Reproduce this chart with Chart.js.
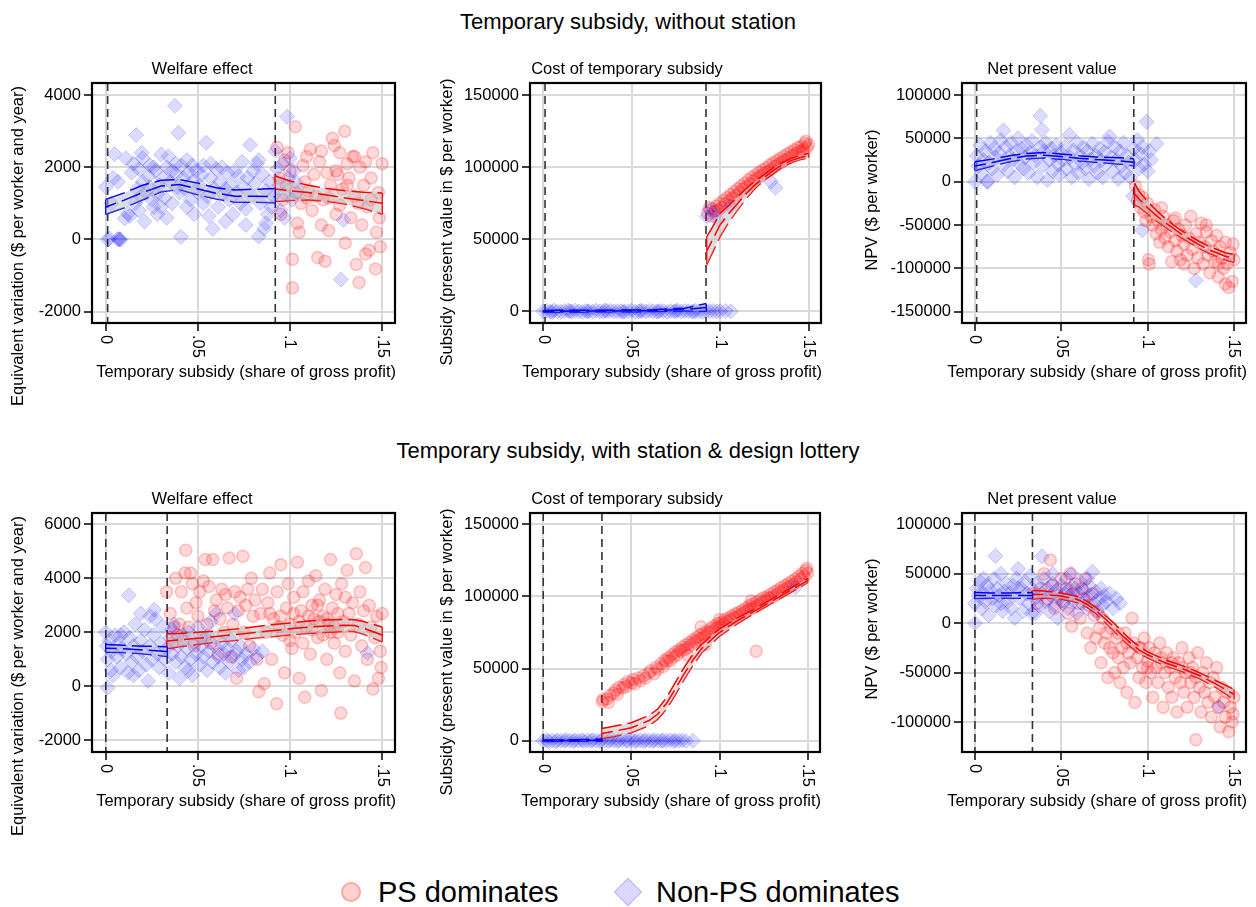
<!DOCTYPE html>
<html>
<head>
<meta charset="utf-8">
<script src="https://cdn.jsdelivr.net/npm/chart.js@4.4.1/dist/chart.umd.min.js"></script>
<style>
  body { margin: 0; background: #fff; font-family: "Liberation Sans", Arial, sans-serif; }
  #page { position: relative; width: 1256px; height: 907px; overflow: hidden; }
  canvas { position: absolute; }
  .main-title { position: absolute; left: 0; width: 1256px; text-align: center; font-size: 22px; line-height: 26px; color: #000; }
  .leg-text { position: absolute; font-size: 29px; line-height: 34px; color: #000; }
  .leg-circle { position: absolute; width: 16px; height: 16px; border-radius: 50%; background: rgba(255,0,0,0.18); border: 2px solid rgba(255,0,0,0.22); }
  .leg-diamond { position: absolute; width: 18px; height: 18px; transform: rotate(45deg); background: rgba(0,0,255,0.15); border: 1px solid rgba(0,0,255,0.18); }
</style>
</head>
<body>
<div id="page">
  <div class="main-title" style="top:9px">Temporary subsidy, without station</div>
  <div class="main-title" style="top:438px">Temporary subsidy, with station &amp; design lottery</div>

  <canvas id="welfareA" width="405" height="365" style="left:0;top:55px"></canvas>
  <canvas id="costA" width="405" height="365" style="left:425px;top:55px"></canvas>
  <canvas id="npvA" width="406" height="365" style="left:850px;top:55px"></canvas>
  <canvas id="welfareB" width="405" height="365" style="left:0;top:485px"></canvas>
  <canvas id="costB" width="405" height="365" style="left:425px;top:485px"></canvas>
  <canvas id="npvB" width="406" height="365" style="left:850px;top:485px"></canvas>

  <div class="leg-circle" style="left:341px;top:882px"></div>
  <div class="leg-text" style="left:378px;top:875px">PS dominates</div>
  <div class="leg-diamond" style="left:618px;top:882px"></div>
  <div class="leg-text" style="left:656px;top:875px">Non-PS dominates</div>
</div>

<script>
// x axis (share of gross profit), same for every panel
const xTicks = [0, 0.05, 0.1, 0.15];
const cutsA = [0.001, 0.092];   // without station
const cutsB = [0, 0.0333];      // with station & design lottery

const welfareTicksA = [-2000, 0, 2000, 4000];
const costTicks = [0, 50000, 100000, 150000];
const npvTicksA = [-150000, -100000, -50000, 0, 50000, 100000];
const welfareTicksB = [-2000, 0, 2000, 4000, 6000];
const npvTicksB = [-100000, -50000, 0, 50000, 100000];

// ---------- Temporary subsidy, without station ----------
const welfareANonPS = [
  [0,1450],[.001,0],[.002,30],[.003,1000],[.0048,2365],[.004,1700],[.0066,1600],[.007,0],[.0075,0],[.008,0],[.0065,20],
  [.011,2245],[.0102,580],[.012,720],[.014,1850],[.015,2100],[.0165,2890],[.017,1400],[.018,800],[.013,650],[.0195,2400],
  [.019,1200],[.02,1600],[.021,500],[.018,1950],[.016,1000],[.02,2250],[.022,1300],[.023,1750],[.024,2050],[.025,1100],
  [.026,900],[.027,1900],[.028,700],[.029,1500],[.03,2350],[.024,1450],[.026,2000],[.028,1250],[.03,900],[.031,1700],
  [.032,1150],[.033,2000],[.034,2300],[.035,1600],[.036,1000],[.0375,3700],[.038,1800],[.0394,2950],[.04,1300],[.038,2100],
  [.033,600],[.036,1900],[.0407,75],[.039,1450],[.041,2050],[.042,1700],[.043,1400],[.044,2200],[.045,1850],[.046,1100],
  [.047,1600],[.048,700],[.049,1900],[.05,1300],[.044,900],[.047,2050],[.051,1500],[.052,1800],[.053,2050],[.0545,2680],
  [.055,1200],[.056,650],[.057,1700],[.058,300],[.059,1400],[.06,1950],[.053,1000],[.057,2100],[.061,900],[.062,1600],
  [.063,2000],[.064,1250],[.065,500],[.066,1850],[.067,1100],[.068,1500],[.069,700],[.07,1900],[.065,1400],[.071,1300],
  [.072,1750],[.073,1000],[.074,2150],[.075,1450],[.076,850],[.077,1700],[.0783,2620],[.079,1200],[.08,1900],[.076,400],
  [.081,1550],[.082,2100],[.083,80],[.084,1000],[.085,1800],[.086,300],[.087,1350],[.088,700],[.089,1600],[.09,900],
  [.083,2200],[.087,450],[.091,1200],[.092,2450],[.093,1950],[.094,1500],[.095,800],[.096,2100],[.097,1250],[.0984,3400],
  [.099,1700],[.1,2250],[.101,1100],[.102,1900],[.104,1300],[.103,1600],[.097,600],[.1276,-1110],[.129,540]
];
const welfareAPS = [
  [.093,2550],[.094,1700],[.095,700],[.096,1100],[.097,2200],[.098,1500],[.099,2400],[.1,1900],[.1013,-550],[.1013,-1340],
  [.1029,3120],[.103,1300],[.104,450],[.105,200],[.106,1000],[.107,2050],[.108,1600],[.109,2300],[.11,1350],[.111,2500],
  [.112,800],[.113,1800],[.114,1200],[.115,-500],[.116,2150],[.117,400],[.118,1100],[.119,-600],[.12,1850],[.121,250],
  [.122,1500],[.123,2800],[.124,2600],[.125,700],[.126,1800],[.127,2400],[.1285,1400],[.1297,3000],[.13,-100],[.131,2100],
  [.132,1700],[.133,600],[.134,2300],[.135,1200],[.136,-690],[.137,1000],[.1375,-1190],[.138,2000],[.139,400],[.14,1500],
  [.141,2150],[.142,900],[.143,-300],[.144,1700],[.145,2400],[.1464,-820],[.147,200],[.148,1300],[.149,-200],[.15,2100],
  [.1485,600],[.121,1150],[.117,2450],[.127,950],[.141,-400],[.109,1150],[.135,2300],[.125,1900],[.131,1500],[.144,1100]
];
const welfareAFitNonPS = [ // [x, low, mean, high]
  [0,700,900,1110],[.01,880,1090,1290],[.02,1100,1300,1500],[.03,1320,1480,1640],[.04,1380,1520,1660],
  [.05,1240,1400,1560],[.06,1120,1280,1430],[.07,1040,1200,1370],[.08,1030,1200,1390],[.092,1020,1180,1410]
];
const welfareAFitPS = [
  [.092,1050,1400,1760],[.1,1080,1350,1620],[.11,1100,1300,1500],[.12,1060,1230,1410],[.13,980,1150,1350],
  [.14,860,1080,1310],[.15,700,1000,1290]
];

const costANonPS = [
  [0,0],[.002,300],[.004,-200],[.006,500],[.008,0],[.01,-300],[.012,200],[.014,600],[.016,-100],[.018,400],[.02,0],
  [.022,-400],[.024,300],[.026,100],[.028,-200],[.03,500],[.032,0],[.034,-300],[.036,200],[.038,400],[.04,-100],[.042,0],
  [.044,300],[.046,-200],[.048,100],[.05,500],[.052,-300],[.054,0],[.056,200],[.058,-100],[.06,400],[.062,0],[.064,-200],
  [.066,300],[.068,100],[.07,-400],[.072,200],[.074,0],[.076,500],[.078,-100],[.08,300],[.082,0],[.084,-200],[.086,400],
  [.088,100],[.09,-300],[.092,200],[.094,0],[.096,300],[.098,-100],[.1,0],[.103,200],[.106,0],[.005,-500],[.015,100],
  [.025,-100],[.035,600],[.045,-400],[.055,300],[.065,-100],[.075,200],[.085,-300],
  [.0925,65800],[.0962,68600],[.0987,63300],[.1057,72800],[.1287,90000],[.1312,85600],[.094,70500]
];
const costAPS = [
  [.093,68000],[.094,72000],[.095,66000],[.096,71000],[.097,69500],[.098,73000],[.099,70000],[.1,75000],[.101,72000],
  [.102,77000],[.103,74500],[.104,79000],[.105,76500],[.106,81000],[.107,78500],[.108,83000],[.109,80500],[.11,85000],
  [.111,82500],[.112,87000],[.113,85000],[.114,89000],[.115,86500],[.116,91000],[.117,88500],[.118,93000],[.119,90500],
  [.12,94500],[.121,92500],[.122,96500],[.123,94000],[.124,98000],[.125,95500],[.126,99500],[.127,97000],[.128,101500],
  [.129,98500],[.13,103000],[.131,100500],[.132,104500],[.133,102000],[.134,106000],[.135,103500],[.136,107500],
  [.137,105000],[.138,109000],[.139,106500],[.14,110500],[.141,108000],[.142,112000],[.143,109500],[.144,113500],
  [.145,111000],[.146,114500],[.147,112000],[.148,116500],[.149,113500],[.15,115500],[.1485,118000],[.1465,110000]
];
const costAFitNonPS = [[0,-600,0,600],[.02,-400,150,700],[.04,-300,250,800],[.06,-200,400,1000],[.08,400,1200,2100],[.092,200,2600,5400]];
const costAFitPS = [
  [.0925,32500,42000,52000],[.095,39000,48000,57000],[.1,52000,60000,68000],[.105,62000,68000,73500],[.11,70500,75000,79500],
  [.115,78500,82000,85500],[.12,85500,88000,90500],[.125,91000,93000,95000],[.13,95500,97500,99500],
  [.135,100000,101500,103000],[.14,103000,104500,106000],[.145,105000,106500,108000],[.15,106500,108000,109500]
];

const npvANonPS = [
  [0,0],[.001,30000],[.002,18000],[.003,42000],[.004,10000],[.005,25000],[.006,35000],[.007,0],[.0075,0],[.008,22000],
  [.009,45000],[.01,15000],[.011,38000],[.012,28000],[.013,8000],[.014,33000],[.015,48000],[.0165,59000],[.017,20000],
  [.018,40000],[.019,12000],[.02,30000],[.021,45000],[.022,25000],[.023,5000],[.024,35000],[.025,50000],[.026,20000],
  [.027,38000],[.028,15000],[.029,28000],[.03,42000],[.031,10000],[.032,33000],[.033,47000],[.034,22000],[.035,30000],
  [.036,5000],[.0378,76000],[.0388,60000],[.038,40000],[.039,18000],[.04,35000],[.041,45000],[.042,2000],[.043,25000],
  [.044,38000],[.045,12000],[.046,30000],[.047,42000],[.048,20000],[.049,8000],[.05,33000],[.051,25000],[.052,40000],
  [.053,15000],[.0547,54000],[.055,28000],[.056,5000],[.057,36000],[.058,20000],[.059,45000],[.06,10000],[.061,30000],
  [.062,22000],[.063,40000],[.064,15000],[.065,35000],[.066,3000],[.067,26000],[.068,44000],[.069,18000],[.07,30000],
  [.071,10000],[.072,38000],[.073,24000],[.074,5000],[.075,34000],[.076,20000],[.077,46000],[.078,52000],[.079,28000],
  [.08,12000],[.081,40000],[.082,25000],[.083,3000],[.084,35000],[.085,18000],[.086,45000],[.087,10000],[.088,30000],
  [.089,22000],[.09,5000],[.0917,-16800],[.092,38000],[.093,25000],[.094,48000],[.095,15000],[.096,32000],[.0969,-55900],
  [.097,40000],[.098,20000],[.0994,69000],[.1,12000],[.101,35000],[.102,25000],[.1052,43700],[.1279,-114000]
];
const npvAPS = [
  [.093,-5000],[.094,-22000],[.095,-15000],[.096,-30000],[.097,-18000],[.098,-35000],[.099,-45000],[.1,-25000],
  [.1005,-90000],[.101,-95000],[.102,-40000],[.103,-50000],[.104,-32000],[.105,-60000],[.106,-45000],[.107,-70000],
  [.108,-55000],[.109,-40000],[.11,-65000],[.111,-50000],[.112,-75000],[.113,-58000],[.114,-92000],[.115,-45000],
  [.116,-68000],[.117,-80000],[.118,-55000],[.119,-90000],[.12,-62000],[.121,-72000],[.122,-50000],[.123,-85000],
  [.124,-65000],[.125,-40000],[.126,-78000],[.127,-100000],[.128,-60000],[.129,-88000],[.13,-70000],[.131,-48000],
  [.132,-95000],[.133,-75000],[.134,-58000],[.135,-85000],[.136,-105000],[.137,-68000],[.138,-80000],[.139,-92000],
  [.14,-62000],[.141,-110000],[.142,-75000],[.143,-88000],[.144,-100000],[.145,-70000],[.146,-95000],[.147,-122000],
  [.148,-82000],[.149,-115000],[.15,-90000],[.1495,-72000],[.134,-50000],[.121,-95000],[.108,-30000],[.116,-42000],
  [.141,-95000],[.145,-118000]
];
const npvAFitNonPS = [
  [0,13000,18000,23000],[.01,18000,22000,26000],[.02,23000,26500,30000],[.03,26500,29500,32500],[.04,27500,30500,33500],
  [.05,26000,29000,32000],[.06,24000,27000,30000],[.07,22500,25500,28500],[.08,21000,24500,28000],[.092,18500,22500,26500]
];
const npvAFitPS = [
  [.0925,-27000,-14000,-2000],[.095,-29000,-20000,-11000],[.1,-37000,-30000,-23000],[.105,-45000,-39000,-33000],
  [.11,-52000,-47000,-42000],[.115,-59000,-54000,-50000],[.12,-65000,-61000,-57000],[.125,-71000,-67000,-63000],
  [.13,-77000,-73000,-69000],[.135,-82000,-78000,-74000],[.14,-86000,-82000,-78000],[.145,-90000,-86000,-82000],
  [.15,-93000,-88000,-84000]
];

// ---------- Temporary subsidy, with station & design lottery ----------
const welfareBNonPS = [
  [0,2000],[.0005,1500],[.001,-50],[.001,1000],[.002,1700],[.003,1300],[.004,400],[.005,1900],[.006,1100],[.007,1600],
  [.008,700],[.009,1400],[.01,2000],[.011,1200],[.0125,3370],[.012,500],[.013,1800],[.014,900],[.015,1500],[.016,2300],
  [.017,1100],[.018,600],[.019,1700],[.02,1300],[.021,2100],[.022,800],[.023,200],[.024,1500],[.025,1000],[.026,1900],
  [.0263,2840],[.027,2500],[.028,1200],[.029,700],[.03,1600],[.031,2200],[.032,1000],[.033,1400],[.034,500],[.035,1800],
  [.036,1200],[.037,2300],[.038,900],[.039,1500],[.04,300],[.041,1100],[.042,1900],[.043,700],[.044,1400],[.045,2000],
  [.046,1000],[.047,400],[.048,1600],[.049,1200],[.05,2200],[.051,800],[.052,1500],[.053,1100],[.054,1800],[.055,600],
  [.056,1300],[.057,2400],[.058,900],[.059,1500],[.06,2700],[.061,1100],[.062,700],[.063,1600],[.064,1200],[.065,500],
  [.066,1400],[.067,900],[.068,1700],[.069,1100],[.07,2700],[.071,1300],[.072,600],[.073,1500],[.074,1000],[.075,700],
  [.076,1200],[.078,900],[.08,1400],[.082,1100],[.085,1300],[.142,1235],[.003,600],[.008,1900],[.015,400],[.019,2700],
  [.024,2600],[.036,2100],[.045,600],[.055,1900]
];
const welfareBPS = [
  [.033,3500],[.035,2700],[.036,1600],[.037,2200],[.038,4000],[.039,1900],[.04,2300],[.041,3500],[.042,1700],[.043,4200],
  [.0434,5040],[.044,2900],[.045,2200],[.046,4200],[.047,3800],[.048,1500],[.049,3100],[.05,2600],[.051,3500],[.052,1800],
  [.053,3900],[.054,4700],[.055,2300],[.056,3700],[.057,1600],[.058,4700],[.059,2800],[.06,3200],[.061,1200],[.062,2500],
  [.063,3600],[.064,2000],[.065,3400],[.066,2900],[.067,4750],[.068,1100],[.069,2300],[.07,3500],[.071,300],[.072,2800],
  [.073,3300],[.0744,4820],[.075,2000],[.076,3000],[.077,3600],[.078,1500],[.079,4000],[.08,2600],[.081,3200],[.082,1000],
  [.083,-200],[.084,2700],[.085,3600],[.086,100],[.087,2000],[.088,3100],[.089,4200],[.09,1000],[.091,2500],[.0927,-640],
  [.093,3500],[.094,2200],[.095,4500],[.096,1900],[.097,500],[.098,2900],[.099,3800],[.1,2300],[.101,1400],[.102,3300],
  [.103,2000],[.104,4600],[.105,300],[.106,2800],[.107,3500],[.108,-400],[.109,2200],[.11,3900],[.111,1200],[.112,3000],
  [.113,2500],[.114,4100],[.115,1800],[.116,3200],[.117,-150],[.118,2600],[.119,3600],[.12,1000],[.121,2300],[.122,4700],
  [.123,2900],[.124,1600],[.125,3400],[.126,2000],[.127,500],[.1276,-990],[.128,3800],[.129,2400],[.13,1300],[.131,4300],
  [.132,2700],[.133,1900],[.134,3100],[.135,200],[.136,4915],[.137,2300],[.138,3500],[.139,1500],[.14,2800],[.141,4400],
  [.142,1000],[.143,3000],[.144,2200],[.145,-100],[.146,1800],[.147,2600],[.148,300],[.149,1300],[.15,2700],[.1495,700],
  [.105,2400],[.112,2100],[.118,1900],[.122,2000],[.11,2600],[.116,2400],[.126,2700],[.13,3300],[.107,1600],[.102,2700],
  [.1,1700],[.115,3000],[.12,2500],[.124,2200],[.095,2600],[.089,2700]
];
const welfareBFitNonPS = [[0,1260,1410,1550],[.01,1250,1390,1520],[.02,1210,1350,1490],[.0333,1110,1290,1470]];
const welfareBFitPS = [
  [.0333,1400,1680,1950],[.04,1470,1720,1960],[.05,1560,1780,2000],[.06,1640,1850,2050],[.07,1700,1920,2120],
  [.08,1780,1990,2200],[.09,1840,2060,2280],[.1,1910,2130,2350],[.11,1960,2190,2420],[.12,2000,2240,2460],
  [.13,2040,2260,2480],[.135,2030,2250,2470],[.14,1930,2150,2400],[.15,1650,1900,2200]
];

const costBNonPS = [
  [0,0],[.002,400],[.003,-300],[.005,200],[.007,-500],[.008,300],[.01,0],[.012,-200],[.013,500],[.015,100],[.017,-400],
  [.018,300],[.02,0],[.022,500],[.023,-300],[.025,200],[.027,-100],[.028,400],[.03,0],[.032,-400],[.033,300],[.035,100],
  [.037,-200],[.038,500],[.04,0],[.042,-300],[.043,200],[.045,400],[.047,-100],[.048,0],[.05,300],[.052,-400],[.053,100],
  [.055,200],[.057,-200],[.058,400],[.06,0],[.062,-300],[.063,300],[.065,100],[.067,-100],[.068,200],[.07,0],[.072,300],
  [.074,-200],[.075,100],[.077,0],[.079,200],[.081,-100],[.085,0],[.143,106400]
];
const costBPS = [
  [.0335,27000],[.034,28500],[.036,29000],[.037,26500],[.038,31500],[.04,33000],[.041,35000],[.042,32000],[.043,37000],
  [.045,36500],[.046,39000],[.047,37500],[.048,41000],[.05,40000],[.051,42500],[.052,39500],[.054,43500],[.055,41500],
  [.057,45000],[.058,43500],[.06,47000],[.061,48500],[.063,46500],[.064,51000],[.065,49500],[.067,53500],[.068,51500],
  [.069,56000],[.07,55000],[.071,57500],[.072,55500],[.073,59500],[.074,58000],[.075,61500],[.076,59500],[.077,63000],
  [.078,62000],[.079,65000],[.08,63000],[.081,66500],[.082,64500],[.083,68000],[.084,66500],[.085,70000],[.086,68500],
  [.087,71500],[.088,70000],[.089,73500],[.09,71000],[.091,74500],[.092,72500],[.093,76000],[.094,75000],[.095,78000],
  [.096,76000],[.097,79500],[.098,78000],[.099,81000],[.1,79000],[.101,82000],[.102,80500],[.103,84000],[.104,82500],
  [.105,85000],[.106,83500],[.107,86500],[.108,85000],[.109,88000],[.11,86000],[.111,89000],[.112,87500],[.113,90500],
  [.114,89000],[.115,92000],[.116,90500],[.117,93500],[.118,91500],[.119,95000],[.12,92500],[.1208,62000],[.121,96000],
  [.122,94000],[.123,97500],[.124,95500],[.125,99000],[.126,97000],[.127,100000],[.128,98500],[.129,101500],[.13,99500],
  [.131,103000],[.132,101000],[.133,104500],[.134,102500],[.135,106000],[.136,104000],[.137,107500],[.138,105500],
  [.139,109000],[.14,107000],[.141,110500],[.142,108500],[.143,112000],[.144,110000],[.145,114000],[.146,112000],
  [.147,116000],[.148,114000],[.149,118000],[.15,116000],[.1495,119500],[.0895,79000],[.1,84000],[.092,66500],
  [.082,59000],[.118,97000]
];
const costBFitNonPS = [[0,-500,0,500],[.01,-400,100,600],[.02,-300,200,700],[.0333,-200,400,1200]];
const costBFitPS = [
  [.0333,1500,5000,8500],[.04,3000,6500,10000],[.05,5500,9000,12500],[.06,10500,14000,17500],[.065,15000,18500,22000],
  [.07,22000,26000,30000],[.075,32000,36000,40500],[.08,42500,46500,51000],[.085,52500,56000,60000],[.09,61000,64000,67000],
  [.1,72500,75000,77500],[.11,81000,83000,85000],[.12,88500,90000,91500],[.13,95500,97000,98500],
  [.14,102500,104000,105500],[.15,109500,111000,112500]
];

const npvBNonPS = [
  [0,0],[0,20000],[.001,35000],[.002,28000],[.003,42000],[.004,15000],[.005,30000],[.006,22000],[.007,38000],[.008,8000],
  [.009,33000],[.01,25000],[.011,45000],[.0119,68000],[.012,18000],[.013,35000],[.014,28000],[.015,50000],[.016,12000],
  [.017,32000],[.018,40000],[.019,22000],[.02,30000],[.021,15000],[.022,38000],[.023,5000],[.024,45000],[.025,55000],
  [.026,25000],[.027,35000],[.028,12000],[.029,42000],[.03,30000],[.031,20000],[.032,48000],[.033,10000],[.034,33000],
  [.035,25000],[.036,40000],[.037,18000],[.0388,67600],[.039,30000],[.04,45000],[.041,22000],[.042,35000],[.043,12000],
  [.044,28000],[.045,40000],[.046,18000],[.047,33000],[.048,5000],[.049,25000],[.05,38000],[.051,20000],[.052,30000],
  [.053,45000],[.054,15000],[.055,28000],[.056,50000],[.057,22000],[.058,35000],[.059,10000],[.06,30000],[.061,42000],
  [.062,20000],[.063,33000],[.064,25000],[.065,15000],[.066,38000],[.067,28000],[.068,52000],[.069,20000],[.07,32000],
  [.071,10000],[.072,25000],[.073,35000],[.074,18000],[.075,28000],[.076,22000],[.078,30000],[.08,15000],[.082,25000],
  [.084,20000],[.1413,-84500],[.005,45000],[.015,20000],[.025,35000],[.035,10000],[.045,50000],[.055,35000],[.065,45000]
];
const npvBPS = [
  [.034,30000],[.036,20000],[.038,35000],[.04,50000],[.042,25000],[.0437,64000],[.045,38000],[.046,15000],[.048,28000],
  [.05,45000],[.051,22000],[.053,35000],[.054,10000],[.055,50000],[.056,-3000],[.057,30000],[.058,40000],[.06,20000],
  [.061,5000],[.062,35000],[.063,25000],[.064,45000],[.065,-10000],[.066,18000],[.067,-25000],[.068,30000],[.069,8000],
  [.07,-15000],[.071,12000],[.072,-5000],[.073,-40000],[.074,5000],[.075,-20000],[.076,-10000],[.077,-55000],
  [.078,-25000],[.079,-5000],[.08,-30000],[.081,-50000],[.082,-15000],[.083,-35000],[.084,-60000],[.085,-25000],
  [.086,-45000],[.087,-10000],[.088,-70000],[.089,-30000],[.09,-40000],[.091,5000],[.092,-20000],[.0927,-80400],
  [.094,-35000],[.095,-55000],[.096,-25000],[.097,-45000],[.098,-15000],[.099,-60000],[.1,-38000],[.101,-25000],
  [.102,-50000],[.103,-75000],[.104,-30000],[.105,-45000],[.106,-60000],[.107,-20000],[.108,-40000],[.109,-85000],
  [.11,-50000],[.111,-30000],[.112,-65000],[.113,-45000],[.114,-75000],[.115,-35000],[.116,-55000],[.117,-90000],
  [.118,-40000],[.119,-60000],[.12,-25000],[.121,-70000],[.122,-50000],[.123,-85000],[.124,-35000],[.125,-60000],
  [.126,-45000],[.127,-75000],[.1279,-118000],[.128,-55000],[.129,-30000],[.13,-65000],[.131,-90000],[.132,-50000],
  [.133,-70000],[.134,-40000],[.135,-80000],[.136,-60000],[.137,-95000],[.138,-55000],[.139,-75000],[.14,-45000],
  [.141,-85000],[.142,-105000],[.143,-65000],[.144,-80000],[.145,-95000],[.146,-70000],[.147,-110000],[.148,-85000],
  [.149,-100000],[.15,-75000],[.1495,-92000],[.114,-40000],[.12,-45000],[.125,-50000],[.108,-35000],[.1,-45000],
  [.095,-25000],[.088,-20000],[.083,-10000]
];
const npvBFitNonPS = [[0,25000,28000,31000],[.01,25500,28000,30500],[.02,25500,28000,30500],[.0333,25000,28000,31000]];
const npvBFitPS = [
  [.0333,24500,29000,33000],[.04,25500,29000,32500],[.05,24500,27500,30500],[.057,22000,25000,28000],[.06,20500,23500,26500],
  [.065,16000,19000,22000],[.07,10000,13000,16000],[.075,1500,5000,8500],[.08,-7000,-3000,1000],[.085,-16000,-12000,-8000],
  [.09,-23500,-20000,-16500],[.095,-30500,-27000,-23500],[.1,-35000,-32000,-29000],[.11,-43000,-40000,-37000],
  [.12,-49000,-46000,-43000],[.13,-56000,-53000,-50000],[.14,-65500,-62000,-58500],[.15,-77000,-72000,-67000]
];

const FONT = '"Liberation Sans", Arial, sans-serif';
Chart.defaults.font.family = FONT;
Chart.defaults.color = '#000';

const RED = '#ff0000';
const BLUE = '#0000ff';

function fmtX(v) {
  return v === 0 ? '0' : String(v).replace(/^0/, '');
}

// frame, cutoff lines and all the free text of a panel
const panelDecor = {
  id: 'panelDecor',
  beforeDatasetsDraw(chart, args, opts) {
    const { ctx, chartArea: a, scales: { x } } = chart;
    ctx.save();
    ctx.strokeStyle = '#333';
    ctx.lineWidth = 1.6;
    ctx.setLineDash([8, 5]);
    opts.cuts.forEach(v => {
      const px = x.getPixelForValue(v);
      ctx.beginPath();
      ctx.moveTo(px, a.top);
      ctx.lineTo(px, a.bottom);
      ctx.stroke();
    });
    ctx.restore();
  },
  afterDraw(chart, args, opts) {
    const { ctx, chartArea: a, scales: { x } } = chart;
    ctx.save();
    ctx.strokeStyle = '#000';
    ctx.lineWidth = 2.2;
    ctx.strokeRect(a.left, a.top, a.right - a.left, a.bottom - a.top);

    ctx.fillStyle = '#000';
    ctx.font = '16.5px ' + FONT;
    // x tick labels, turned clockwise
    xTicks.forEach(v => {
      const px = x.getPixelForValue(v);
      ctx.save();
      ctx.translate(px, a.bottom + 12);
      ctx.rotate(Math.PI / 2);
      ctx.textAlign = 'left';
      ctx.textBaseline = 'middle';
      ctx.fillText(fmtX(v), 0, 0);
      ctx.restore();
    });
    // x title
    ctx.textAlign = 'right';
    ctx.textBaseline = 'middle';
    ctx.fillText('Temporary subsidy (share of gross profit)', a.right + 1, a.bottom + 49);
    // panel title
    ctx.textAlign = 'center';
    ctx.fillText(opts.title, 202, 14);
    // y title
    ctx.save();
    ctx.translate(opts.yTitleX, opts.yTitleY);
    ctx.rotate(-Math.PI / 2);
    ctx.fillText(opts.yTitle, 0, 0);
    ctx.restore();
    ctx.restore();
  }
};

function pts(rows) {
  return rows.map(r => ({ x: r[0], y: r[1] }));
}

// mean line, upper band (filled down to the lower band), lower band, end caps
function fitSets(rows, color) {
  const first = rows[0];
  const last = rows[rows.length - 1];
  const dash = [20, 6];
  return [
    {
      data: rows.map(r => ({ x: r[0], y: r[2] })),
      showLine: true, pointRadius: 0, borderColor: color, borderWidth: 1.5,
      borderDash: dash, borderDashOffset: 9, fill: false
    },
    {
      data: rows.map(r => ({ x: r[0], y: r[3] })),
      showLine: true, pointRadius: 0, borderColor: color, borderWidth: 1.5,
      borderDash: dash, backgroundColor: 'rgba(190,190,190,0.5)', fill: '+1'
    },
    {
      data: rows.map(r => ({ x: r[0], y: r[1] })),
      showLine: true, pointRadius: 0, borderColor: color, borderWidth: 1.5,
      borderDash: dash, fill: false
    },
    {
      data: [
        { x: first[0], y: first[3] }, { x: first[0], y: first[1] }, { x: first[0], y: null },
        { x: last[0], y: last[3] }, { x: last[0], y: last[1] }
      ],
      showLine: true, spanGaps: false, pointRadius: 0, borderColor: color, borderWidth: 1.5, fill: false
    }
  ];
}

function makePanel(id, cfg) {
  const yAxisWidth = cfg.yAxisWidth;
  new Chart(document.getElementById(id), {
    type: 'scatter',
    data: {
      datasets: [
        ...fitSets(cfg.fitNonPS, BLUE),
        ...fitSets(cfg.fitPS, RED),
        {
          data: pts(cfg.nonPS), pointStyle: 'rectRot', pointRadius: 7.5,
          backgroundColor: 'rgba(0,0,255,0.14)', borderColor: 'rgba(0,0,255,0.18)', borderWidth: 1
        },
        {
          data: pts(cfg.ps), pointStyle: 'circle', pointRadius: 6,
          backgroundColor: 'rgba(255,0,0,0.15)', borderColor: 'rgba(255,0,0,0.22)', borderWidth: 1.5
        }
      ]
    },
    options: {
      responsive: false,
      animation: false,
      events: [],
      layout: { padding: { top: 28, right: cfg.right, left: 0, bottom: cfg.bottom } },
      plugins: {
        legend: { display: false },
        tooltip: { enabled: false },
        panelDecor: { cuts: cfg.cuts, title: cfg.title, yTitle: cfg.yTitle, yTitleX: cfg.yTitleX, yTitleY: cfg.yTitleY }
      },
      scales: {
        x: {
          type: 'linear', min: -0.0075, max: 0.157,
          afterBuildTicks: s => { s.ticks = xTicks.map(v => ({ value: v })); },
          afterFit: s => { s.height = 67; },
          ticks: { color: 'rgba(0,0,0,0)', autoSkip: false, maxRotation: 0 },
          grid: { color: '#d9d9d9', lineWidth: 2, tickLength: 8, tickColor: '#000', tickWidth: 1.5 },
          border: { display: false }
        },
        y: {
          type: 'linear', min: cfg.yMin, max: cfg.yMax,
          afterBuildTicks: s => { s.ticks = cfg.yTicks.map(v => ({ value: v })); },
          afterFit: s => { s.width = yAxisWidth; },
          ticks: { autoSkip: false, padding: 3, color: '#000', font: { size: 16.5 }, callback: v => String(v) },
          grid: { color: '#d9d9d9', lineWidth: 2, tickLength: 8, tickColor: '#000', tickWidth: 1.5 },
          border: { display: false }
        }
      }
    },
    plugins: [panelDecor]
  });
}

const welfareTitle = 'Equivalent variation ($ per worker and year)';
const costTitle = 'Subsidy (present value in $ per worker)';
const npvTitle = 'NPV ($ per worker)';

makePanel('welfareA', {
  title: 'Welfare effect', yTitle: welfareTitle, yTitleX: 18, yTitleY: 191, yAxisWidth: 92, right: 10, bottom: 30,
  yMin: -2313, yMax: 4333, yTicks: welfareTicksA, cuts: cutsA,
  ps: welfareAPS, nonPS: welfareANonPS, fitPS: welfareAFitPS, fitNonPS: welfareAFitNonPS
});
makePanel('costA', {
  title: 'Cost of temporary subsidy', yTitle: costTitle, yTitleX: 22, yTitleY: 167, yAxisWidth: 105, right: 9, bottom: 30,
  yMin: -8100, yMax: 158300, yTicks: costTicks, cuts: cutsA,
  ps: costAPS, nonPS: costANonPS, fitPS: costAFitPS, fitNonPS: costAFitNonPS
});
makePanel('npvA', {
  title: 'Net present value', yTitle: npvTitle, yTitleX: 22, yTitleY: 145, yAxisWidth: 112, right: 10, bottom: 30,
  yMin: -163000, yMax: 113800, yTicks: npvTicksA, cuts: cutsA,
  ps: npvAPS, nonPS: npvANonPS, fitPS: npvAFitPS, fitNonPS: npvAFitNonPS
});
makePanel('welfareB', {
  title: 'Welfare effect', yTitle: welfareTitle, yTitleX: 18, yTitleY: 191, yAxisWidth: 92, right: 10, bottom: 31,
  yMin: -2430, yMax: 6420, yTicks: welfareTicksB, cuts: cutsB,
  ps: welfareBPS, nonPS: welfareBNonPS, fitPS: welfareBFitPS, fitNonPS: welfareBFitNonPS
});
makePanel('costB', {
  title: 'Cost of temporary subsidy', yTitle: costTitle, yTitleX: 22, yTitleY: 167, yAxisWidth: 105, right: 10, bottom: 31,
  yMin: -7800, yMax: 157800, yTicks: costTicks, cuts: cutsB,
  ps: costBPS, nonPS: costBNonPS, fitPS: costBFitPS, fitNonPS: costBFitNonPS
});
makePanel('npvB', {
  title: 'Net present value', yTitle: npvTitle, yTitleX: 22, yTitleY: 144, yAxisWidth: 112, right: 10, bottom: 31,
  yMin: -130400, yMax: 111500, yTicks: npvTicksB, cuts: cutsB,
  ps: npvBPS, nonPS: npvBNonPS, fitPS: npvBFitPS, fitNonPS: npvBFitNonPS
});
</script>
</body>
</html>
